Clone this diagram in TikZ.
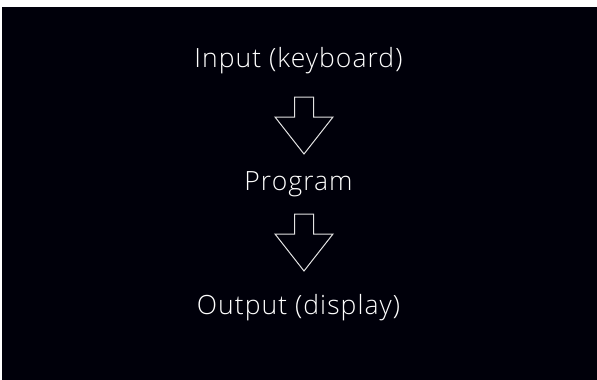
\documentclass[tikz,border=0pt]{standalone}
\usepackage{fontspec}
\setmainfont{Open Sans Light}[LetterSpace=4]
\begin{document}
\begin{tikzpicture}[x=1pt,y=-1pt]
\tikzset{
  label text/.style={text=white,font=\fontsize{26.5}{30}\selectfont,inner sep=0pt,anchor=base},
  hollow/.style={draw=gray!22,line width=1pt,line join=miter}
}
\useasboundingbox[fill=white] (0,0) rectangle (597,380);
% Fondo negro
\fill[black!96!blue] (2,7) rectangle (597,380);
% Textos:
\node[label text] (in) at (298.5,67) {Input (keyboard)};
\node[label text] (prog) at (298.5,190) {Program};
\node[label text] (out) at (298.5,314) {Output (display)};
% Flechas huecas
\coordinate (a1) at (304,97);
\coordinate (a2) at (304,214);
\foreach \c in {a1,a2}
\draw[hollow] (\c) ++(-9.5,0) -- ++(19,0) -- ++(0,20) -- ++(19.5,0) -- ++(-29,37)
  -- ++(-29,-37) -- ++(19.5,0) -- cycle;
\end{tikzpicture}
\end{document}
